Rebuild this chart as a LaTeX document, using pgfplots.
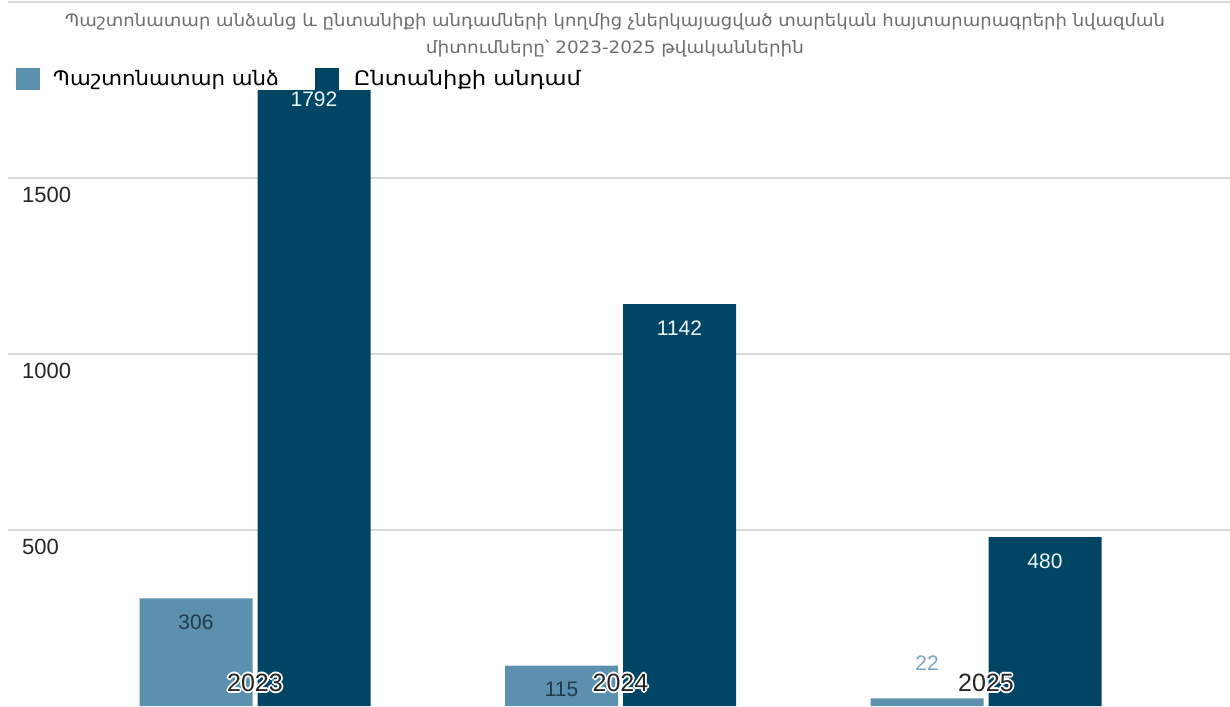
\documentclass[border=0pt]{standalone}
\usepackage{pgfplots}
\pgfplotsset{compat=1.18}
\usepackage{fontspec}
\setmainfont{Liberation Sans}
\newfontfamily\arm{DejaVu Sans}
\definecolor{lightbar}{HTML}{5B90AF}
\definecolor{darkbar}{HTML}{004664}
\definecolor{labdark}{HTML}{1F3B4D}
\definecolor{lab22}{HTML}{7FA6C0}
\definecolor{gridc}{HTML}{D9D9D9}
\definecolor{titlec}{HTML}{6E6E6E}
\newcommand\hlc[3]{\rlap{\hspace*{#1}\raisebox{#2}{\color{white}#3}}}
\newcommand\hl[1]{\hlc{-1.8pt}{0pt}{#1}\hlc{1.8pt}{0pt}{#1}\hlc{0pt}{1.8pt}{#1}\hlc{0pt}{-1.8pt}{#1}\hlc{-1.3pt}{1.3pt}{#1}\hlc{1.3pt}{1.3pt}{#1}\hlc{-1.3pt}{-1.3pt}{#1}\hlc{1.3pt}{-1.3pt}{#1}{\color{black!85}#1}}
\begin{document}
\begin{tikzpicture}
\begin{axis}[
  name=ax,
  scale only axis,
  width=1222pt, height=704pt,
  xmin=-0.6758, xmax=2.6676,
  ymin=0, ymax=2000,
  axis line style={draw=none},
  major tick length=0pt,
  ymajorgrids,
  grid style={gridc, line width=1.8pt},
  ytick={500,1000,1500,2000},
  yticklabels={500,1000,1500,},
  /pgf/number format/assume math mode=true,
  yticklabel style={anchor=north west, inner sep=0pt, xshift=14pt, yshift=-9pt, font=\fontsize{22}{25}\selectfont, text=black!85},
  xtick={0,1,2},
  xticklabels={},
  clip=false,
  legend columns=2,
  legend style={at={(axis description cs:0.00655,0.9063)}, anchor=north west, draw=none, fill=white, inner sep=0pt, outer sep=0pt, column sep=0pt, row sep=0pt, nodes={inner sep=0pt}, font=\arm\fontsize{20}{24}\selectfont},
  legend image code/.code={\fill[#1,draw=none] (0pt,-11pt) rectangle (24pt,11pt);},
  title style={at={(axis description cs:0.4967,0.9759)}, anchor=north, align=center, inner sep=0pt, font=\arm\fontsize{17}{27.5}\selectfont, text=titlec},
  title={\resizebox{1100pt}{\height}{Պաշտոնատար անձանց և ընտանիքի անդամների կողմից չներկայացված տարեկան հայտարարագրերի նվազման}\\\resizebox{378pt}{\height}{միտումները՝ 2023-2025 թվականներին}},
]
\addplot[ybar, bar width=113pt, bar shift=-59pt, fill=lightbar, draw=none] coordinates {(0,306) (1,115) (2,22)};
\addlegendentry{\hspace{13pt}\makebox[262pt][l]{\resizebox{226pt}{\height}{Պաշտոնատար անձ}}}
\addplot[ybar, bar width=113pt, bar shift=59pt, fill=darkbar, draw=none] coordinates {(0,1792) (1,1142) (2,480)};
\addlegendentry{\hspace{15pt}\makebox[227pt][l]{\resizebox{227pt}{\height}{Ընտանիքի անդամ}}}
% value labels
\addplot[draw=none, forget plot, nodes near coords, point meta=explicit symbolic,
  nodes near coords style={anchor=center, yshift=-24pt, text=labdark, font=\fontsize{21}{24}\selectfont}]
  coordinates {(-0.1614,306)[306] (0.8386,115)[115]};
\addplot[draw=none, forget plot, nodes near coords, point meta=explicit symbolic,
  nodes near coords style={anchor=center, yshift=35pt, text=lab22, font=\fontsize{21}{24}\selectfont}]
  coordinates {(1.8386,22)[22]};
\addplot[draw=none, forget plot, nodes near coords, point meta=explicit symbolic,
  nodes near coords style={anchor=center, yshift=-24pt, text=white!92!cyan, font=\fontsize{21}{24}\selectfont}]
  coordinates {(0.1614,1792)[1792] (1.1614,1142)[1142] (2.1614,480)[480]};
% category labels on top of the bars
\addplot[draw=none, forget plot, point meta=explicit symbolic,
  nodes near coords={\hl{\pgfplotspointmeta}},
  nodes near coords style={anchor=base, inner sep=0pt, yshift=14.5pt, font=\fontsize{25}{28}\selectfont}]
  coordinates {(0,0)[2023] (1,0)[2024] (2,0)[2025]};
\end{axis}
\pgfresetboundingbox
\path[use as bounding box] ([xshift=-8pt]ax.south west) rectangle ++(1230pt,706pt);
\end{tikzpicture}
\end{document}
